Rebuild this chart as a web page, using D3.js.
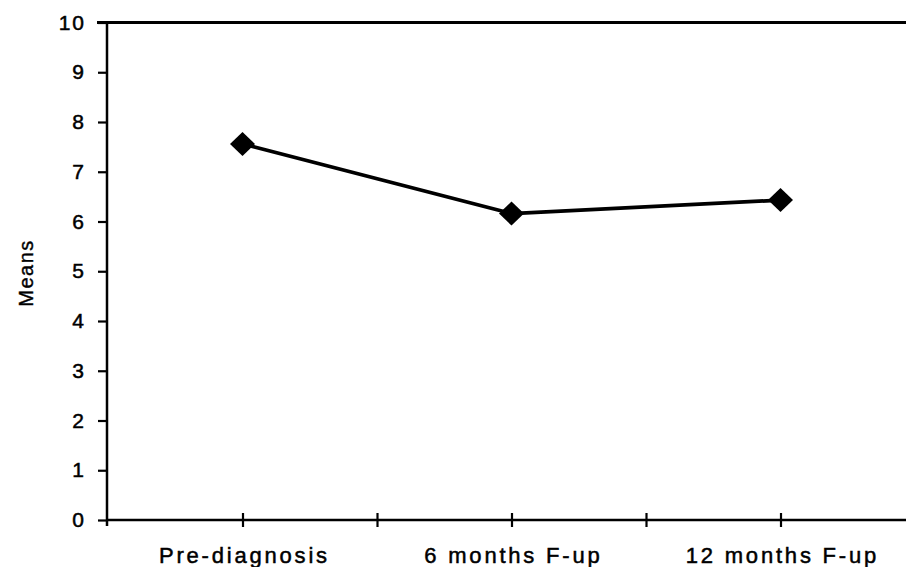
<!DOCTYPE html>
<html><head><meta charset="utf-8">
<script src="https://cdn.jsdelivr.net/npm/d3@7"></script>
<style>
body{margin:0;background:#fff;}
text{font-family:"Liberation Sans",Arial,sans-serif;fill:#000;}
</style></head>
<body><svg id="c" width="906" height="567"></svg>
<script>
const categories = ["Pre-diagnosis","6 months F-up","12 months F-up"];
const meansValues = [7.56, 6.16, 6.43];
const yTickValues = [0,1,2,3,4,5,6,7,8,9,10];
const yAxisTitle = "Means";

const svg = d3.select("#c");
const x = d3.scaleLinear().domain([0,3]).range([108,915]);
const y = d3.scaleLinear().domain([0,10]).range([520,22.5]);

// top border
svg.append("line").attr("x1",97).attr("x2",906).attr("y1",y(10)).attr("y2",y(10))
  .attr("stroke","#000").attr("stroke-width",3);

// y axis
const yAx = svg.append("g").attr("transform","translate(107,0)")
  .call(d3.axisLeft(y).tickValues(yTickValues).tickSize(9).tickPadding(12).tickFormat(d3.format("d")));
yAx.select(".domain").remove();
yAx.selectAll(".tick line").attr("stroke-width",2.2);
yAx.selectAll("text").attr("font-size",21).style("letter-spacing","2px")
  .attr("font-family","'Liberation Sans',Arial,sans-serif").attr("fill","#000")
  .attr("stroke","#000").attr("stroke-width",0.5);
svg.append("line").attr("x1",107).attr("x2",107).attr("y1",y(10)).attr("y2",526)
  .attr("stroke","#000").attr("stroke-width",2.5);

// x axis
const xTicks = [0.5,1,1.5,2,2.5];
const xAx = svg.append("g").attr("transform",`translate(0,${y(0)})`)
  .call(d3.axisBottom(x).tickValues(xTicks).tickSize(7).tickPadding(20)
    .tickFormat(d => Number.isInteger(d) ? "" : categories[Math.floor(d)]));
xAx.select(".domain").remove();
xAx.selectAll(".tick line").attr("y1",-7).attr("y2",7).attr("stroke-width",2.2);
xAx.selectAll("text").attr("font-size",22).style("letter-spacing","2.8px")
  .attr("font-family","'Liberation Sans',Arial,sans-serif").attr("fill","#000")
  .attr("stroke","#000").attr("stroke-width",0.5)
  .attr("dx","1.4px");
svg.append("line").attr("x1",107).attr("x2",906).attr("y1",y(0)).attr("y2",y(0))
  .attr("stroke","#000").attr("stroke-width",2.5);

// y title
svg.append("text").attr("transform",`translate(33,${273}) rotate(-90)`)
  .attr("text-anchor","middle").attr("font-size",20).style("letter-spacing","1.5px")
  .attr("stroke","#000").attr("stroke-width",0.4)
  .text(yAxisTitle);

// line
const line = d3.line().x((d,i)=>x(i+0.5)).y(d=>y(d));
svg.append("path").datum(meansValues).attr("d",line).attr("fill","none")
  .attr("stroke","#000").attr("stroke-width",3.8);

// diamond markers
svg.selectAll(".mk").data(meansValues).enter().append("path").attr("class","mk")
  .attr("transform",(d,i)=>`translate(${x(i+0.5)},${y(d)})`)
  .attr("d","M0,-12L12.5,0L0,12L-12.5,0Z").attr("fill","#000");
</script></body></html>
